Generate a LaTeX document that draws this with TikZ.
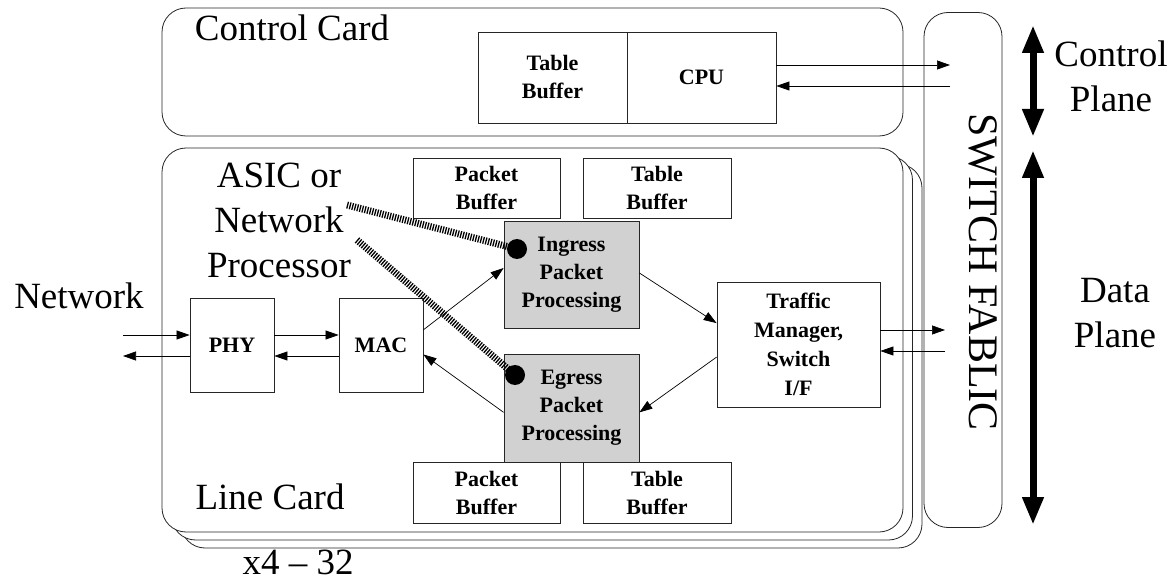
\documentclass[tikz,border=0pt]{standalone}
\usepackage{fontspec}
\setmainfont{Liberation Serif}
\usetikzlibrary{arrows.meta,calc}

\begin{document}
\begin{tikzpicture}[x=1pt,y=-1pt,
  card/.style={draw=black!85, line width=0.8pt, rounded corners=24pt, fill=white},
  blk/.style={draw=black!85, line width=0.8pt, fill=white, inner sep=0pt, align=center,
    font=\fontsize{22}{28}\selectfont\bfseries},
  proc/.style={blk, fill=black!18},
  big/.style={font=\fontsize{37}{45}\selectfont, align=center, inner sep=0pt},
  link/.style={line width=0.7pt, -{Triangle[length=13pt,width=9pt]}},
  hatch/.style={line width=7pt, dash pattern=on 1.3pt off 1.3pt},
  dot/.style={circle, fill=black, inner sep=0pt, minimum size=20pt},
  plane/.style={line width=7pt, {Triangle[length=28pt,width=20pt]}-{Triangle[length=28pt,width=20pt]}}
]
\useasboundingbox (0,0) rectangle (1173,580);

% switch fabric
\node[card, minimum width=78pt, minimum height=515pt, inner sep=0pt] (fab) at (963,270) {};
\node[font=\fontsize{42}{46}\selectfont, rotate=-90, inner sep=0pt] (fabtxt) at (983,272) {SWITCH FABLIC};

% control card
\node[card, minimum width=741pt, minimum height=128pt, inner sep=0pt] (cc) at (532.5,72) {};
\node[big, anchor=base] (cctxt) at (292,41) {Control Card};
\node[blk, minimum width=149pt, minimum height=91pt] (cbuf) at (552.5,77.5) {Table\\Buffer};
\node[blk, minimum width=149pt, minimum height=91pt] (cpu) at (701.5,77.5) {CPU};

% stacked line cards
\node[card, minimum width=741pt, minimum height=384pt, inner sep=0pt] (lc3) at (551.5,356) {};
\node[card, minimum width=741pt, minimum height=384pt, inner sep=0pt] (lc2) at (542,348) {};
\node[card, minimum width=741pt, minimum height=384pt, inner sep=0pt] (lc) at (532.5,340) {};
\node[big, anchor=base] (lctxt) at (270,509) {Line Card};
\node[big, anchor=base] (mult) at (298,574) {x4 -- 32};

% line card blocks
\node[blk, minimum width=84pt, minimum height=94pt] (phy) at (232,345) {PHY};
\node[blk, minimum width=84pt, minimum height=94pt] (mac) at (381,345) {MAC};
\node[blk, minimum width=147pt, minimum height=60pt] (pbuf1) at (486.5,188) {Packet\\Buffer};
\node[blk, minimum width=148pt, minimum height=60pt] (tbuf1) at (657,188) {Table\\Buffer};
\node[proc, minimum width=135pt, minimum height=107pt] (ing) at (571.5,274.5) {Ingress\\Packet\\Processing};
\node[proc, minimum width=135pt, minimum height=108pt] (egr) at (571.5,408) {Egress\\Packet\\Processing};
\node[blk, minimum width=147pt, minimum height=61pt] (pbuf2) at (486.5,492.5) {Packet\\Buffer};
\node[blk, minimum width=148pt, minimum height=61pt] (tbuf2) at (657,492.5) {Table\\Buffer};
\node[blk, minimum width=163pt, minimum height=125pt, font=\fontsize{22}{29}\selectfont\bfseries] (tm) at (798.5,344.5) {Traffic\\Manager,\\Switch\\I/F};

% processor label and its pointers
\node[big] (asic) at (279,220) {ASIC or\\Network\\Processor};
\coordinate (h1) at (347,205);
\coordinate (h2) at (357,240);
\coordinate (idotpos) at (517,249);
\coordinate (edotpos) at (515,375);
\draw[hatch] (h1) -- (idotpos);
\draw[hatch] (h2) -- (edotpos);
\node[dot] (idot) at (idotpos) {};
\node[dot] (edot) at (edotpos) {};

% network side
\node[big, anchor=base] (net) at (79,308) {Network};
\coordinate (netin) at (123,335);
\coordinate (netout) at (123,356);
\draw[link] (netin) -- (phy.west |- netin);
\draw[link] (phy.west |- netout) -- (netout);
\draw[link] (phy.east |- netin) -- (mac.west |- netin);
\draw[link] (mac.west |- netout) -- (phy.east |- netout);

% packet path
\draw[link] ($(mac.north east)!0.34!(mac.south east)$) -- ($(ing.north west)!0.44!(ing.south west)$);
\draw[link] ($(ing.north east)!0.486!(ing.south east)$) -- ($(tm.north west)!0.33!(tm.south west)$);
\draw[link] ($(tm.north west)!0.6!(tm.south west)$) -- ($(egr.north east)!0.54!(egr.south east)$);
\draw[link] ($(egr.north west)!0.54!(egr.south west)$) -- ($(mac.north east)!0.6!(mac.south east)$);

% fabric connections
\coordinate (fd1) at (945,330);
\coordinate (fd2) at (945,351);
\draw[link] (tm.east |- fd1) -- (fd1);
\draw[link] (fd2) -- (tm.east |- fd2);
\coordinate (fc1) at (950,65);
\coordinate (fc2) at (950,86);
\draw[link] (cpu.east |- fc1) -- (fc1);
\draw[link] (fc2) -- (cpu.east |- fc2);

% planes
\coordinate (cpt) at (1033,25);
\coordinate (cpb) at (1033,137);
\coordinate (dpt) at (1033,150);
\coordinate (dpb) at (1033,525);
\draw[plane] (cpt) -- (cpb);
\draw[plane] (dpt) -- (dpb);
\node[big] (cplane) at (1111,76) {Control\\Plane};
\node[big] (dplane) at (1115,313) {Data\\Plane};
\end{tikzpicture}
\end{document}
